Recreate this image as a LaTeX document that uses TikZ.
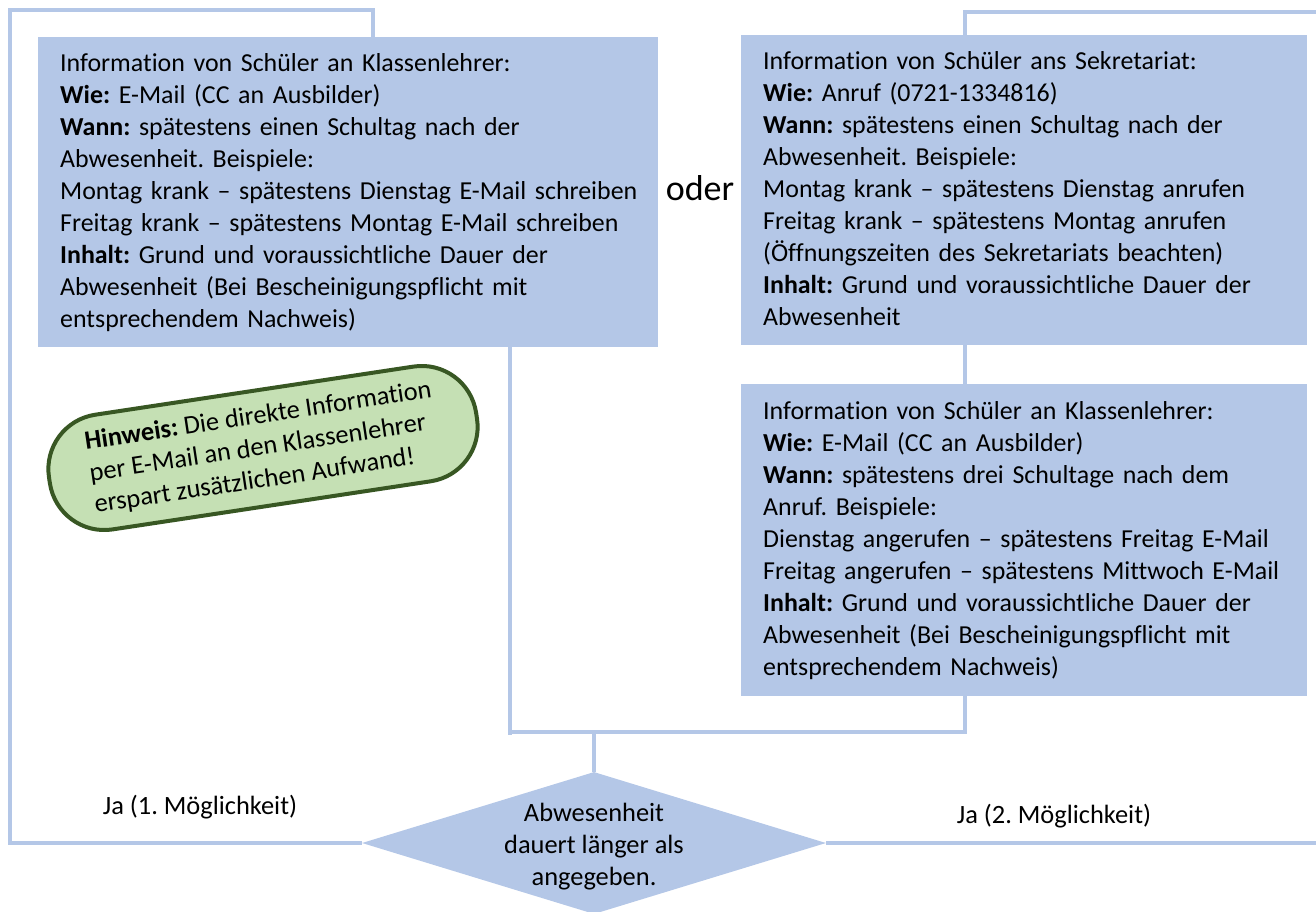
\documentclass[tikz,border=0pt]{standalone}
\usepackage{fontspec}
\setmainfont{Carlito}[Ligatures=NoCommon]
\usetikzlibrary{shapes.geometric}
\definecolor{boxblue}{HTML}{B4C7E7}
\definecolor{lineblue}{HTML}{B4C7E7}
\definecolor{notegreen}{HTML}{C5E0B4}
\definecolor{notedark}{HTML}{385723}
\frenchspacing
\begin{document}
\begin{tikzpicture}[x=1pt,y=-1pt,
  infobox/.style={rectangle, fill=boxblue, draw=none, inner sep=0pt, anchor=north west},
  bodytext/.style={anchor=base west, inner sep=0pt, text width=600pt, align=left,
    font=\fontsize{25.9}{32}\selectfont},
  plain/.style={inner sep=0pt, font=\fontsize{26.4}{32}\selectfont},
  conn/.style={draw=lineblue, line width=3.5pt},
  notebox/.style={rectangle, rounded corners=55pt, fill=notegreen, draw=notedark,
    line width=4pt, minimum width=432pt, minimum height=116pt, inner sep=0pt,
    align=left, font=\fontsize{26.4}{32}\selectfont}
]
\useasboundingbox (0,0) rectangle (1316,912);

% boxes
\node[infobox, minimum width=620pt, minimum height=310pt] (b1) at (38,37) {};
\node[infobox, minimum width=566pt, minimum height=310pt] (b2) at (741,35) {};
\node[infobox, minimum width=566pt, minimum height=312pt] (b3) at (741,384) {};
\node[diamond, fill=boxblue, draw=none, minimum width=464pt, minimum height=142pt, inner sep=0pt] (dia) at (594,843) {};

% helper coordinates
\coordinate (b1top) at (373,37);
\coordinate (b1bot) at (510,347);
\coordinate (b2top) at (965,35);
\coordinate (tl) at (10,10);
\coordinate (tr) at (1320,12);
\coordinate (br) at (1320,843);
\coordinate (join) at (508,732);
\coordinate (joinb) at (510,735);
\coordinate (diatop) at (594,732);

% connectors
\draw[conn] (b1top) |- (tl) |- (dia.west);
\draw[conn] (b2top) |- (tr);
\draw[conn] (dia.east) -- (br);
\draw[conn] (b2.south -| b2top) -- (b3.north -| b2top);
\draw[conn] (b3.south -| b2top) |- (join);
\draw[conn] (b1bot) -- (joinb);
\draw[conn] (diatop) -- (dia.north);

% texts
\node[bodytext] (t1) at (60,71.5) {Information von Schüler an Klassenlehrer:\\
\textbf{Wie:} E-Mail (CC an Ausbilder)\\
\textbf{Wann:} spätestens einen Schultag nach der\\
Abwesenheit. Beispiele:\\
Montag krank – spätestens Dienstag E-Mail schreiben\\
Freitag krank – spätestens Montag E-Mail schreiben\\
\textbf{Inhalt:} Grund und voraussichtliche Dauer der\\
Abwesenheit (Bei Bescheinigungspflicht mit\\
entsprechendem Nachweis)};

\node[bodytext] (t2) at (763,70) {Information von Schüler ans Sekretariat:\\
\textbf{Wie:} Anruf (0721-1334816)\\
\textbf{Wann:} spätestens einen Schultag nach der\\
Abwesenheit. Beispiele:\\
Montag krank – spätestens Dienstag anrufen\\
Freitag krank – spätestens Montag anrufen\\
(Öffnungszeiten des Sekretariats beachten)\\
\textbf{Inhalt:} Grund und voraussichtliche Dauer der\\
Abwesenheit};

\node[bodytext] (t3) at (763,419) {Information von Schüler an Klassenlehrer:\\
\textbf{Wie:} E-Mail (CC an Ausbilder)\\
\textbf{Wann:} spätestens drei Schultage nach dem\\
Anruf. Beispiele:\\
Dienstag angerufen – spätestens Freitag E-Mail\\
Freitag angerufen – spätestens Mittwoch E-Mail\\
\textbf{Inhalt:} Grund und voraussichtliche Dauer der\\
Abwesenheit (Bei Bescheinigungspflicht mit\\
entsprechendem Nachweis)};

\node[inner sep=0pt, font=\fontsize{36}{40}\selectfont] (oder) at (700,188) {oder};

\node[plain, align=center] (diatext) at (594,847) {Abwesenheit\\dauert länger als\\angegeben.};

\node[plain, anchor=base] (ja1) at (200,814) {Ja (1. Möglichkeit)};
\node[plain, anchor=base] (ja2) at (1054,823) {Ja (2. Möglichkeit)};

\node[notebox, rotate=8.6] (note) at (263,448) {\textbf{Hinweis:} Die direkte Information\\per E-Mail an den Klassenlehrer\\erspart zusätzlichen Aufwand!};
\end{tikzpicture}
\end{document}
